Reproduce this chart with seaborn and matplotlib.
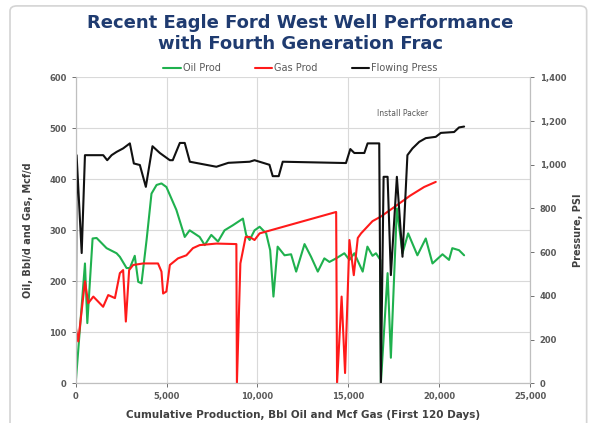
import matplotlib
matplotlib.use("Agg")
import matplotlib.pyplot as plt
import seaborn as sns
import pandas as pd
from matplotlib.patches import FancyBboxPatch
from matplotlib.ticker import FuncFormatter

# valeurs
oil_x = [0, 510, 640, 930, 1150, 1700, 2250, 2430, 2800, 2980, 3250, 3440, 3620, 3900,
         4170, 4450, 4720, 4990, 5540, 6000, 6270, 6820, 7100, 7460, 7830, 8190, 8650,
         9200, 9380, 9570, 9840, 10120, 10480, 10700, 10880, 11110, 11490, 11850, 12130,
         12590, 12950, 13320, 13680, 13960, 14330, 14780, 15060, 15330, 15790, 16050,
         16330, 16520, 16760, 16790, 17160, 17340, 17670, 17980, 18290, 18800, 19260,
         19630, 20180, 20540, 20720, 21090, 21370]
oil_y = [0, 235, 118, 284, 285, 265, 255, 248, 226, 226, 250, 199, 196, 281,
         372, 389, 392, 385, 340, 287, 300, 287, 271, 291, 278, 300, 310,
         323, 291, 281, 300, 307, 294, 261, 170, 268, 251, 253, 219,
         273, 248, 219, 245, 238, 245, 255, 242, 255, 219, 268,
         250, 255, 242, 0, 216, 50, 343, 255, 294, 251, 284,
         235, 253, 242, 265, 261, 251]

gas_x = [0, 140, 510, 690, 970, 1240, 1510, 1790, 2160, 2430, 2610, 2760, 2940, 3160,
         3710, 4530, 4720, 4810, 4990, 5180, 5630, 6090, 6450, 6820, 7740, 8840, 8870,
         9060, 9350, 9570, 9840, 10120, 14330, 14380, 14630, 14820, 15060, 15300,
         15520, 15700, 16330, 16790, 17700, 18400, 19170, 19810]
gas_y = [111, 82, 200, 157, 170, 160, 150, 173, 167, 216, 222, 121, 222, 232,
         235, 235, 219, 176, 180, 232, 245, 251, 265, 271, 274, 273, 0,
         235, 287, 287, 281, 294, 336, 0, 170, 20, 281, 212,
         285, 294, 318, 327, 350, 368, 385, 395]

press_x = [0, 50, 330, 510, 1515, 1735, 1975, 2250, 2610, 2980, 3200, 3530, 3860, 4225,
           4630, 5180, 5340, 5730, 6000, 6280, 7740, 8400, 9570, 9840, 10660, 10840,
           11170, 11390, 14870, 15110, 15330, 15880, 16060, 16700, 16790, 16940, 17160,
           17340, 17670, 17980, 18250, 18530, 18900, 19260, 19810, 20090, 20820, 21090,
           21370]
press_y = [0, 1044, 596, 1044, 1044, 1021, 1044, 1059, 1075, 1098, 1006, 999, 899, 1085,
           1054, 1021, 1021, 1100, 1100, 1014, 991, 1009, 1014, 1021, 1000, 948,
           948, 1014, 1008, 1072, 1054, 1054, 1098, 1098, 0, 945, 945,
           495, 945, 579, 1044, 1075, 1105, 1122, 1128, 1146, 1150, 1171,
           1175]

sns.set_style("whitegrid", {"grid.color": "#d9d9d9", "axes.edgecolor": "#bfbfbf"})
plt.rcParams["font.family"] = ["DejaVu Sans"]

fig = plt.figure(figsize=(5.89, 4.23), dpi=100)
ax = fig.add_axes([0.1285, 0.094, 0.7715, 0.723])
ax2 = ax.twinx()

oil = pd.DataFrame({"x": oil_x, "y": oil_y})
gas = pd.DataFrame({"x": gas_x, "y": gas_y})
press = pd.DataFrame({"x": press_x, "y": press_y})

sns.lineplot(data=oil, x="x", y="y", ax=ax, color="#1fb14e", lw=1.5,
             sort=False, estimator=None)
sns.lineplot(data=gas, x="x", y="y", ax=ax, color="#ff1a1a", lw=1.5,
             sort=False, estimator=None)
sns.lineplot(data=press, x="x", y="y", ax=ax2, color="#111111", lw=1.5,
             sort=False, estimator=None)

comma = FuncFormatter(lambda v, p: f"{int(v):,}")
tick_col = "#595959"

ax.set_xlim(0, 25000)
ax.set_ylim(0, 600)
ax.set_xticks(range(0, 25001, 5000))
ax.set_yticks(range(0, 601, 100))
ax.xaxis.set_major_formatter(comma)
ax2.set_ylim(0, 1400)
ax2.set_yticks(range(0, 1401, 200))
ax2.yaxis.set_major_formatter(comma)
ax2.grid(False)

for a in (ax, ax2):
    a.tick_params(labelsize=6, colors=tick_col, length=3, width=0.6)
    for lab in a.get_xticklabels() + a.get_yticklabels():
        lab.set_fontweight("bold")
    for s in a.spines.values():
        s.set_color("#bfbfbf")
        s.set_linewidth(0.8)
    a.spines["top"].set_visible(False)
ax.tick_params(axis="both", which="both", left=True, bottom=True, labelcolor=tick_col)
ax2.tick_params(axis="y", right=True, pad=4)

ax.set_xlabel("Cumulative Production, Bbl Oil and Mcf Gas (First 120 Days)",
              fontsize=7.5, fontweight="bold", color="#404040", labelpad=6)
ax.set_ylabel("Oil, Bbl/d and Gas, Mcf/d", fontsize=7, fontweight="bold",
              color="#404040", labelpad=12)
ax2.set_ylabel("Pressure, PSI", fontsize=7, fontweight="bold", color="#404040",
               labelpad=5)

ax.text(16590, 530, "Install Packer", fontsize=5.5, color="#595959", va="center")

handles = [ax.lines[0], ax.lines[1], ax2.lines[0]]
labels = ["Oil Prod", "Gas Prod", "Flowing Press"]
leg = fig.legend(handles, labels, loc="center", bbox_to_anchor=(0.51, 0.839), ncol=3,
                 frameon=False, fontsize=7, handlelength=1.8, handletextpad=0.2,
                 columnspacing=3.5)
for t in leg.get_texts():
    t.set_color("#595959")

fig.suptitle("Recent Eagle Ford West Well Performance\nwith Fourth Generation Frac",
             x=0.51, y=0.968, va="top", fontsize=13, fontweight="bold",
             color="#1f3b70", linespacing=1.25)

fig.patches.append(FancyBboxPatch((0.017, -0.02), 0.979, 1.006,
                                  boxstyle="round,pad=0,rounding_size=0.012",
                                  transform=fig.transFigure, fill=False,
                                  ec="#d4d4d4", lw=1.2))

fig.savefig("out.png", dpi=100)
